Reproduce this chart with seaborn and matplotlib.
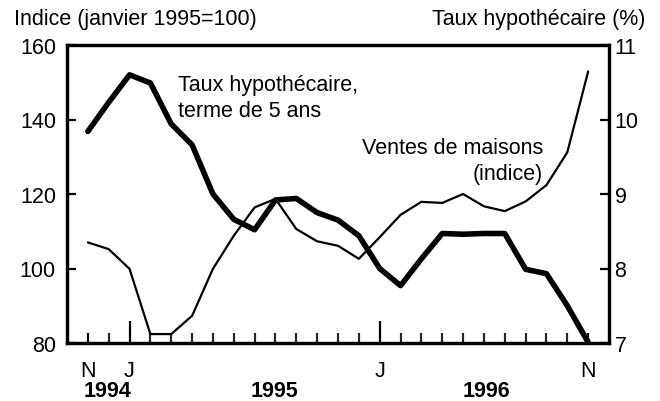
import matplotlib
matplotlib.use("Agg")
import matplotlib.pyplot as plt
import seaborn as sns
import pandas as pd
import numpy as np

# ---- data ----
months = list(range(25))  # Nov 1994 .. Nov 1996
house_sales_index = [107.0, 105.2, 99.9, 82.4, 82.4, 87.3, 99.9, 108.8, 116.4, 118.7,
                     110.6, 107.3, 106.1, 102.6, 108.4, 114.4, 117.9, 117.6, 120.0, 116.7,
                     115.4, 118.0, 122.4, 131.2, 152.9]
mortgage_rate = [9.84, 10.23, 10.60, 10.49, 9.94, 9.66, 9.00, 8.66, 8.52, 8.92,
                 8.94, 8.75, 8.65, 8.44, 8.00, 7.77, 8.13, 8.47, 8.46, 8.47,
                 8.47, 7.99, 7.93, 7.50, 7.01]
xtick_pos = [0, 2, 14, 24]
xtick_labels = ["N", "J", "J", "N"]
year_labels = ["1994", "1995", "1996"]
year_pos = [0.95, 8.95, 19.1]
left_ticks = [80, 100, 120, 140, 160]
right_ticks = [7, 8, 9, 10, 11]

sns.set_style("white")
plt.rcParams['font.family'] = ['Liberation Sans', 'DejaVu Sans']
FS = 15.5

df = pd.DataFrame({"m": months, "sales": house_sales_index, "rate": mortgage_rate})

W, H = 660, 402
fig = plt.figure(figsize=(6.6, 4.02), dpi=100)
L, R, T, B = 67, 609, 46, 344
ax1 = fig.add_axes([L / W, 1 - B / H, (R - L) / W, (B - T) / H])
ax2 = ax1.twinx()

sns.lineplot(data=df, x="m", y="sales", ax=ax1, color="black", linewidth=1.6)
sns.lineplot(data=df, x="m", y="rate", ax=ax2, color="black", linewidth=4.0)

ax1.set_xlim(-1, 25)
ax1.set_ylim(80, 160)
ax2.set_ylim(7, 11)
ax1.set_xlabel("")
ax1.set_ylabel("")
ax2.set_ylabel("")

ax1.set_yticks(left_ticks)
ax1.set_yticklabels([str(v) for v in left_ticks])
ax2.set_yticks(right_ticks)
ax2.set_yticklabels([str(v) for v in right_ticks])

for ax in (ax1, ax2):
    for s in ax.spines.values():
        s.set_color("black")
        s.set_linewidth(2.3)
        s.set_visible(True)

ax1.tick_params(axis="y", which="major", direction="in", length=6.5, width=1.6,
                labelsize=FS, pad=8, left=True, right=False, colors="black")
ax2.tick_params(axis="y", which="major", direction="in", length=6.5, width=1.6,
                labelsize=FS, pad=4, left=False, right=True, colors="black")

ax1.set_xticks(months, minor=True)
ax1.set_xticks(xtick_pos)
ax1.set_xticklabels(xtick_labels)
ax1.tick_params(axis="x", which="major", direction="in", length=7, width=1.6,
                labelsize=FS, pad=12, bottom=True, colors="black")
ax1.tick_params(axis="x", which="minor", direction="in", length=7, width=1.6,
                bottom=True)
ax2.tick_params(axis="x", which="both", bottom=False, top=False, labelbottom=False)

# year labels
for lab, p in zip(year_labels, year_pos):
    ax1.text(p, (B - 392) / (B - T), lab, transform=ax1.get_xaxis_transform(),
             ha="center", va="center", fontsize=FS, fontweight="bold", color="black")

# axis titles
fig.text(14 / W, 1 - 20 / H, "Indice (janvier 1995=100)", ha="left", va="center",
         fontsize=FS, color="black")
fig.text(645 / W, 1 - 20 / H, "Taux hypothécaire (%)", ha="right", va="center",
         fontsize=FS, color="black")

# annotations
fig.text(178 / W, 1 - 75 / H, "Taux hypothécaire,\nterme de 5 ans", ha="left", va="top",
         fontsize=FS, color="black", linespacing=1.3)
fig.text(543 / W, 1 - 138 / H, "Ventes de maisons\n(indice)", ha="right", va="top",
         multialignment="right", fontsize=FS, color="black", linespacing=1.3)

# longer ticks at January positions
for i, t in enumerate(ax1.xaxis.get_major_ticks()):
    if xtick_labels[i] == "J":
        t.tick1line.set_markersize(16)

fig.savefig("out.png", dpi=100)
